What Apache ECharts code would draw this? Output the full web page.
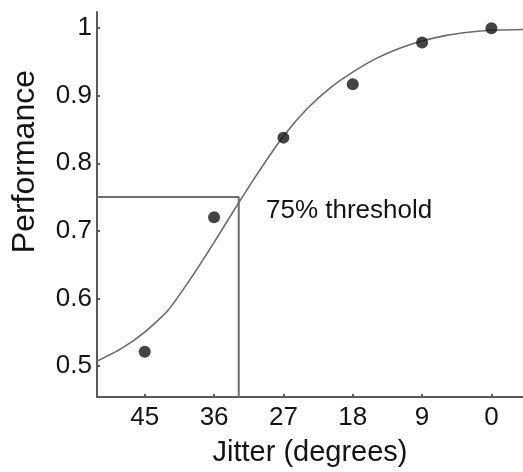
<!DOCTYPE html>
<html>
<head>
<meta charset="utf-8">
<script src="https://cdn.jsdelivr.net/npm/echarts@6/dist/echarts.min.js"></script>
<style>
html,body{margin:0;padding:0;background:#fff;}
#chart{width:523px;height:472px;}
</style>
</head>
<body>
<div id="chart"></div>
<script>
// ---- data ----
const jitterTicks = [45, 36, 27, 18, 9, 0];
const performanceTicks = [0.5, 0.6, 0.7, 0.8, 0.9, 1];

const jitter = [45, 36, 27, 18, 9, 0];
const performance = [0.521, 0.72, 0.838, 0.917, 0.979, 1.0];

const curveJitter = [51.2, 48, 45, 42, 39, 36, 33, 30, 27, 24, 21, 18, 15, 12, 9, 6, 3, 0, -4.1];
const curvePerformance = [0.507, 0.526, 0.550, 0.582, 0.630, 0.683, 0.738, 0.791, 0.840, 0.880, 0.911, 0.935, 0.955, 0.970, 0.981, 0.989, 0.994, 0.997, 0.998];

const thresholdLevel = 0.75;
const thresholdJitter = 32.8;
const thresholdText = '75% threshold';

const xTitle = 'Jitter (degrees)';
const yTitle = 'Performance';

const xMin = -4.1, xMax = 51.2;
const yMin = 0.454, yMax = 1.024;

// ---- build ----
const chart = echarts.init(document.getElementById('chart'), null, {renderer: 'canvas'});
const font = 'Liberation Sans, Arial, sans-serif';
const axisColor = '#5a5a5a';
const textColor = '#141414';

const curveData = curveJitter.map((x, i) => [x, curvePerformance[i]]);
const pointData = jitter.map((x, i) => [x, performance[i]]);
const thresholdData = [[xMax, thresholdLevel], [thresholdJitter, thresholdLevel], [thresholdJitter, yMin]];

chart.setOption({
  animation: false,
  backgroundColor: '#ffffff',
  grid: {left: 97, right: 0, top: 12, bottom: 75, containLabel: false},
  xAxis: {
    type: 'value',
    inverse: true,
    min: xMin,
    max: xMax,
    name: xTitle,
    nameLocation: 'middle',
    nameGap: 41,
    nameTextStyle: {fontFamily: font, fontSize: 29, color: textColor},
    axisLine: {show: true, onZero: false, lineStyle: {color: axisColor, width: 2}},
    axisTick: {show: true, inside: true, length: 3, customValues: jitterTicks, lineStyle: {color: axisColor, width: 2}},
    axisLabel: {show: true, customValues: jitterTicks, fontFamily: font, fontSize: 26, color: textColor, margin: 8,
      formatter: v => String(v)},
    splitLine: {show: false}
  },
  yAxis: {
    type: 'value',
    min: yMin,
    max: yMax,
    axisLine: {show: true, onZero: false, lineStyle: {color: axisColor, width: 2}},
    axisTick: {show: true, inside: true, length: 3, customValues: performanceTicks, lineStyle: {color: axisColor, width: 2}},
    axisLabel: {show: true, customValues: performanceTicks, fontFamily: font, fontSize: 26, color: textColor, margin: 5,
      formatter: v => String(Math.round(v * 10) / 10)},
    splitLine: {show: false}
  },
  graphic: [
    {type: 'text', left: 9, top: 70, rotation: Math.PI / 2, style: {text: yTitle, font: '32px ' + font, fill: textColor}},
    {type: 'text', left: 266, top: 198, style: {text: thresholdText, font: '26px ' + font, fill: textColor}}
  ],
  series: [
    {
      type: 'line', data: thresholdData, symbol: 'none', silent: true,
      lineStyle: {color: '#6e6e6e', width: 2}, z: 1
    },
    {
      type: 'line', data: curveData, symbol: 'none', smooth: 0.2, silent: true,
      lineStyle: {color: '#6a6a6a', width: 1.6}, z: 2
    },
    {
      type: 'scatter', data: pointData, symbol: 'circle', symbolSize: 12,
      itemStyle: {color: '#151515'}, z: 3
    }
  ]
});
</script>
</body>
</html>
